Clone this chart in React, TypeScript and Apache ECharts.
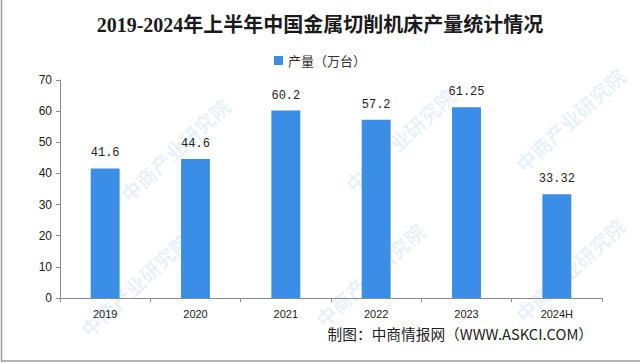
import React, { useEffect, useRef } from "react";
import * as echarts from "echarts";

const categories = ["2019", "2020", "2021", "2022", "2023", "2024H"];
const production = [41.6, 44.6, 60.2, 57.2, 61.25, 33.32];
const seriesName = "产量（万台）";
const titleText = "2019-2024年上半年中国金属切削机床产量统计情况";
const sourceText = "制图：中商情报网（WWW.ASKCI.COM）";
const watermarkText = "中商产业研究院";
const watermarkSpots = [
  [175, 150], [400, 140], [570, 120],
  [135, 285], [370, 275], [570, 270],
];

export default function App() {
  const ref = useRef<HTMLDivElement>(null);
  useEffect(() => {
    if (!ref.current) return;
    const chart = echarts.init(ref.current, null, { renderer: "svg" });
    const watermarks = watermarkSpots.map(([x, y]) => ({
      type: "text",
      x,
      y,
      rotation: Math.PI / 4.2,
      silent: true,
      z: 0,
      style: {
        text: watermarkText,
        fill: "rgba(110,160,210,0.16)",
        font: "bold 20px 'Noto Sans CJK SC'",
        align: "center",
        verticalAlign: "middle",
      },
    }));
    chart.setOption({
      animation: false,
      backgroundColor: "#ffffff",
      title: {
        text: titleText,
        left: "center",
        top: 10,
        textStyle: {
          fontSize: 20,
          fontWeight: "bold",
          color: "#1a1a1a",
          fontFamily: "'Liberation Serif', 'Noto Sans CJK SC'",
        },
      },
      legend: {
        top: 49,
        left: "center",
        itemWidth: 9,
        itemHeight: 9,
        icon: "rect",
        itemGap: 4,
        textStyle: { fontSize: 13, color: "#333", fontFamily: "'Noto Sans CJK SC'" },
        data: [seriesName],
      },
      grid: { left: 60, right: 38, top: 80, bottom: 65, containLabel: false },
      xAxis: {
        type: "category",
        data: categories,
        axisLine: { lineStyle: { color: "#8c8c8c" } },
        axisTick: { show: true, alignWithLabel: false, length: 4, lineStyle: { color: "#8c8c8c" } },
        axisLabel: {
          color: "#222",
          fontSize: 11,
          margin: 10,
          fontFamily: "'Liberation Sans'",
        },
      },
      yAxis: {
        type: "value",
        min: 0,
        max: 70,
        interval: 10,
        axisLine: { show: true, lineStyle: { color: "#8c8c8c" } },
        axisTick: { show: true, length: 4, lineStyle: { color: "#8c8c8c" } },
        splitLine: { show: false },
        axisLabel: { color: "#222", fontSize: 12, margin: 8, fontFamily: "'Liberation Sans'" },
      },
      series: [
        {
          name: seriesName,
          type: "bar",
          data: production,
          barWidth: "32%",
          z: 2,
          itemStyle: { color: "#3a8ee6" },
          label: {
            show: true,
            position: "top",
            distance: 9,
            color: "#222",
            fontSize: 12,
            fontFamily: "'Liberation Mono'",
          },
        },
      ],
      graphic: [
        ...watermarks,
        {
          type: "text",
          right: 47,
          top: 326,
          z: 10,
          style: {
            text: sourceText,
            fill: "#222",
            font: "14.7px 'Noto Sans CJK SC'",
          },
        },
        {
          type: "rect",
          shape: { x: 1.5, y: -2, width: 640, height: 363 },
          silent: true,
          z: 20,
          style: { fill: "none", stroke: "#9a9a9a", lineWidth: 1.5 },
        },
      ],
    });
    return () => chart.dispose();
  }, []);
  return (
    <div
      ref={ref}
      style={{ position: "fixed", left: 0, top: 0, width: 640, height: 363 }}
    />
  );
}
